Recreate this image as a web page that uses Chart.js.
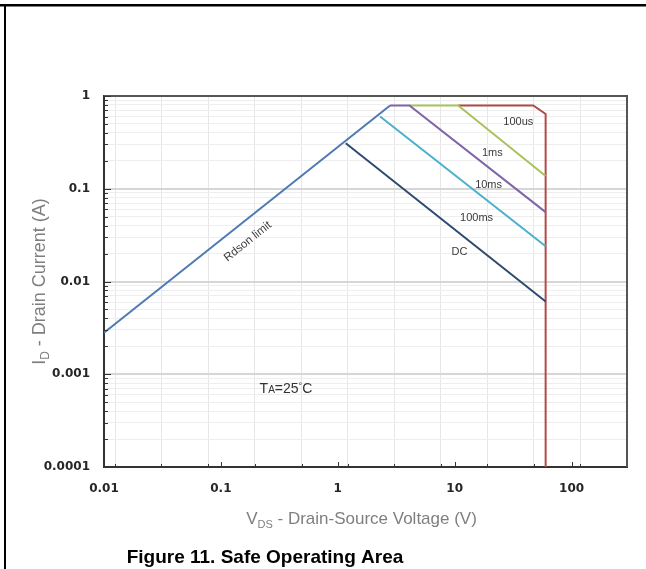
<!DOCTYPE html>
<html>
<head>
<meta charset="utf-8">
<script src="https://cdn.jsdelivr.net/npm/chart.js@4.4.0/dist/chart.umd.min.js"></script>
<style>
  html, body { margin: 0; padding: 0; background: #fff; }
</style>
</head>
<body>
<canvas id="myChart" width="646" height="569"></canvas>
<script>
// VDS (V) / ID (A)
const rdsonV = [0.01, 2.8];
const rdsonI = [0.0028, 0.79];
const dcV = [1.17, 60];
const dcI = [0.31, 0.0061];
const ms100V = [2.3, 60];
const ms100I = [0.6, 0.024];
const ms10V = [2.8, 4.1, 60];
const ms10I = [0.79, 0.79, 0.056];
const ms1V = [4.1, 10.7, 60];
const ms1I = [0.79, 0.79, 0.137];
const us100V = [10.7, 47, 60, 60];
const us100I = [0.79, 0.79, 0.64, 0.0001];

// tick labels
const xTickLabels = [0.01, 0.1, 1, 10, 100];
const yTickLabels = [0.0001, 0.001, 0.01, 0.1, 1];
// vertical grid lines of the original sheet
const xGridLines = [0.0125, 0.031, 0.078, 0.195, 0.49, 1.22, 3.05, 7.6, 19, 47.7, 119];

// curve names and where they sit (in V / A)
const curveNames = ['100us', '1ms', '10ms', '100ms', 'DC'];
const curveNameV = [35, 21, 19.5, 15.4, 11];
const curveNameI = [0.52, 0.243, 0.11, 0.048, 0.0208];

const toPoints = (xs, ys) => xs.map((x, i) => ({ x: x, y: ys[i] }));

const series = [
    { label: 'Rdson limit', xs: rdsonV, ys: rdsonI, color: '#5079b4' },
    { label: 'DC', xs: dcV, ys: dcI, color: '#2d4a6e' },
    { label: '100ms', xs: ms100V, ys: ms100I, color: '#4bb0cc' },
    { label: '10ms', xs: ms10V, ys: ms10I, color: '#7e64a8' },
    { label: '1ms', xs: ms1V, ys: ms1I, color: '#a8c35a' },
    { label: '100us', xs: us100V, ys: us100I, color: '#b24a47' },
];

const yTicks = [];
yTickLabels.slice(0, -1).forEach((d) => {
    for (let m = 1; m < 10; m++) yTicks.push(m === 1 ? d : d * m);
});
yTicks.push(1);

const FONT = "'Liberation Sans', Arial, sans-serif";

// draw a line of text made of parts (for subscripts), centred on 0,0
function drawParts(ctx, parts, color) {
    let total = 0;
    parts.forEach((p) => {
        ctx.font = (p.bold ? 'bold ' : '') + p.size + 'px ' + FONT;
        p.w = ctx.measureText(p.t).width;
        total += p.w;
    });
    let x = -total / 2;
    ctx.fillStyle = color;
    ctx.textAlign = 'left';
    ctx.textBaseline = 'alphabetic';
    parts.forEach((p) => {
        ctx.font = (p.bold ? 'bold ' : '') + p.size + 'px ' + FONT;
        ctx.fillText(p.t, x, p.dy || 0);
        x += p.w;
    });
}

const extras = {
    id: 'extras',
    afterDraw(chart) {
        const ctx = chart.ctx;
        const a = chart.chartArea;
        const xs = chart.scales.x;
        const ys = chart.scales.y;
        ctx.save();

        // top and right frame
        ctx.strokeStyle = '#555';
        ctx.lineWidth = 2;
        ctx.beginPath();
        ctx.moveTo(a.left, a.top);
        ctx.lineTo(a.right, a.top);
        ctx.lineTo(a.right, a.bottom);
        ctx.stroke();

        // small inner tick marks
        ctx.strokeStyle = '#333';
        ctx.lineWidth = 1;
        ctx.beginPath();
        yTicks.forEach((v) => {
            const py = Math.round(ys.getPixelForValue(v)) + 0.5;
            const len = yTickLabels.includes(v) ? 7 : 4;
            ctx.moveTo(a.left, py);
            ctx.lineTo(a.left + len, py);
        });
        xTickLabels.concat(xGridLines).forEach((v) => {
            const px = Math.round(xs.getPixelForValue(v)) + 0.5;
            const len = xTickLabels.includes(v) ? 5 : 3;
            ctx.moveTo(px, a.bottom);
            ctx.lineTo(px, a.bottom - len);
        });
        ctx.stroke();

        // curve names
        ctx.fillStyle = '#3a3a3a';
        ctx.font = '11px ' + FONT;
        ctx.textAlign = 'center';
        ctx.textBaseline = 'middle';
        curveNames.forEach((n, i) => {
            ctx.fillText(n, xs.getPixelForValue(curveNameV[i]), ys.getPixelForValue(curveNameI[i]));
        });

        // Rdson limit, along its line
        const x1 = xs.getPixelForValue(rdsonV[0]), y1 = ys.getPixelForValue(rdsonI[0]);
        const x2 = xs.getPixelForValue(rdsonV[1]), y2 = ys.getPixelForValue(rdsonI[1]);
        ctx.save();
        ctx.translate(xs.getPixelForValue(0.17), ys.getPixelForValue(0.027));
        ctx.rotate(Math.atan2(y2 - y1, x2 - x1));
        ctx.font = '11.5px ' + FONT;
        ctx.fillText('Rdson limit', 0, 0);
        ctx.restore();

        // TA=25°C
        ctx.save();
        ctx.translate(xs.getPixelForValue(0.36), ys.getPixelForValue(0.00071) + 5);
        drawParts(ctx, [
            { t: 'T', size: 14 },
            { t: 'A', size: 10 },
            { t: '=25', size: 14 },
            { t: '°', size: 9, dy: -4 },
            { t: 'C', size: 14 },
        ], '#333');
        ctx.restore();

        // axis titles
        ctx.save();
        ctx.translate((a.left + a.right) / 2 - 4, 524);
        drawParts(ctx, [
            { t: 'V', size: 17 },
            { t: 'DS', size: 11, dy: 4 },
            { t: ' - Drain-Source Voltage (V)', size: 17 },
        ], '#7f7f7f');
        ctx.restore();

        ctx.save();
        ctx.translate(45, (a.top + a.bottom) / 2);
        ctx.rotate(-Math.PI / 2);
        drawParts(ctx, [
            { t: 'I', size: 18 },
            { t: 'D', size: 12, dy: 4 },
            { t: ' - Drain Current (A)', size: 18 },
        ], '#7f7f7f');
        ctx.restore();

        // caption
        ctx.save();
        ctx.translate(265, 563);
        drawParts(ctx, [{ t: 'Figure 11. Safe Operating Area', size: 19, bold: true }], '#000');
        ctx.restore();

        // page box
        ctx.fillStyle = '#000';
        ctx.fillRect(0, 4, 646, 2.5);
        ctx.fillRect(4, 4, 2, 565);

        ctx.restore();
    },
};

const ctx = document.getElementById('myChart').getContext('2d');
new Chart(ctx, {
    type: 'scatter',
    data: {
        datasets: series.map((s) => ({
            label: s.label,
            data: toPoints(s.xs, s.ys),
            showLine: true,
            borderColor: s.color,
            backgroundColor: s.color,
            borderWidth: 2,
            pointRadius: 0,
            fill: false,
        })),
    },
    options: {
        responsive: false,
        animation: false,
        devicePixelRatio: 1,
        layout: { padding: { left: 0, top: 96, right: 19, bottom: 32 } },
        plugins: {
            legend: { display: false },
            tooltip: { enabled: false },
        },
        scales: {
            x: {
                type: 'logarithmic',
                position: 'bottom',
                min: 0.01,
                max: 298,
                bounds: 'data',
                afterBuildTicks: (scale) => {
                    scale.ticks = xTickLabels.concat(xGridLines)
                        .sort((p, q) => p - q)
                        .map((v) => ({ value: v }));
                },
                afterFit: (scale) => { scale.height = 70; },
                ticks: {
                    autoSkip: false,
                    maxRotation: 0,
                    padding: 15,
                    color: '#262626',
                    font: { family: "'DejaVu Sans'", weight: 'bold', size: 12 },
                    callback: (v) => (xTickLabels.includes(v) ? String(v) : ''),
                },
                grid: {
                    drawTicks: false,
                    color: (c) => (xTickLabels.includes(c.tick.value) ? 'rgba(0,0,0,0)' : '#e6e6e6'),
                    lineWidth: 1,
                },
                border: { color: '#333', width: 2 },
            },
            y: {
                type: 'logarithmic',
                min: 0.0001,
                max: 1,
                bounds: 'data',
                afterBuildTicks: (scale) => {
                    scale.ticks = yTicks.map((v) => ({ value: v }));
                },
                afterFit: (scale) => { scale.width = 104; },
                ticks: {
                    autoSkip: false,
                    padding: 14,
                    color: '#262626',
                    font: { family: "'DejaVu Sans'", weight: 'bold', size: 12 },
                    callback: (v) => (yTickLabels.includes(v) ? String(v) : ''),
                },
                grid: {
                    drawTicks: false,
                    color: (c) => (yTickLabels.includes(c.tick.value) ? '#d6d6d6' : '#eeeeee'),
                    lineWidth: (c) => (yTickLabels.includes(c.tick.value) ? 2 : 1),
                },
                border: { color: '#333', width: 2 },
            },
        },
    },
    plugins: [extras],
});
</script>
</body>
</html>
